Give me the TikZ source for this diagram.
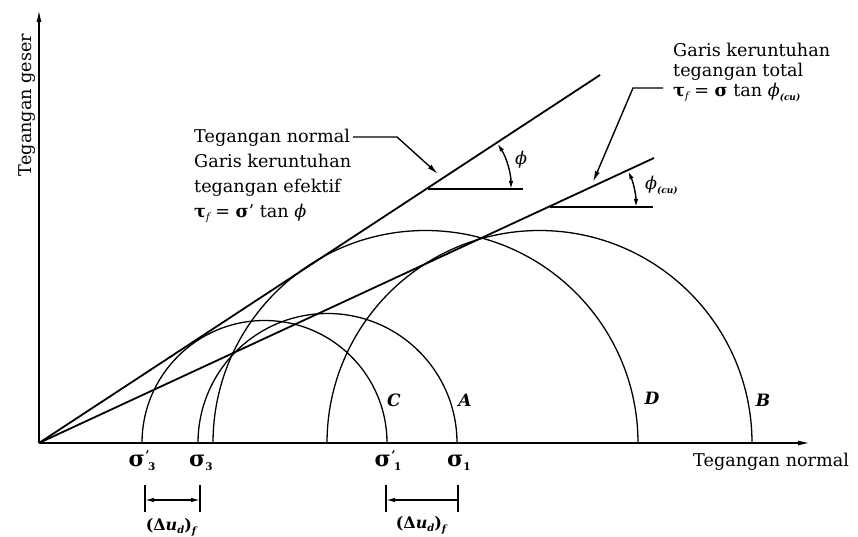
\documentclass[tikz,border=0pt]{standalone}
\usepackage{fontspec}
\setmainfont{DejaVu Serif}
\usetikzlibrary{arrows.meta}
\newcommand{\sgl}[1]{\textbf{σ}\kern0.5pt\raisebox{6.5pt}{\fontsize{12}{12}\selectfont\bfseries '}\kern-1.5pt\raisebox{-4pt}{\fontsize{10.5}{10.5}\selectfont\bfseries #1}}
\newcommand{\sgn}[1]{\textbf{σ}\raisebox{-4pt}{\fontsize{10.5}{10.5}\selectfont\bfseries #1}}
\newcommand{\dud}{\bfseries(Δ\textit{u}\raisebox{-3pt}{\fontsize{10}{10}\selectfont\itshape d})\raisebox{-4pt}{\fontsize{10}{10}\selectfont\itshape f}}
\begin{document}
\begin{tikzpicture}[x=1pt,y=-1pt,
  axis/.style={line width=1.4pt,-{Latex[length=12pt,width=5pt]}},
  fail/.style={line width=1.8pt},
  circ/.style={line width=1.3pt},
  thin line/.style={line width=1.3pt},
  lead/.style={line width=1.4pt,-{Latex[length=11pt,width=5pt]}},
  ang/.style={line width=1.4pt,{Latex[length=8pt,width=4.5pt]}-{Latex[length=8pt,width=4.5pt]}},
  txt/.style={font=\fontsize{17.6}{20}\selectfont, inner sep=0pt, anchor=base west},
  sig/.style={font=\fontsize{22}{24}\selectfont, inner sep=0pt, anchor=base},
  lab/.style={font=\fontsize{17}{20}\selectfont\bfseries\itshape, inner sep=0pt},
  du/.style={font=\fontsize{16}{18}\selectfont, inner sep=0pt}]
\useasboundingbox (0,0) rectangle (858,537);

% axes
\coordinate (O) at (39,443);
\coordinate (Ytip) at (39,10);
\coordinate (Xtip) at (810,443);
\draw[axis] (O) -- (Ytip);
\draw[axis] (O) -- (Xtip);

% failure envelopes
\coordinate (U) at (600,75);
\coordinate (L) at (654,158);
\draw[fail] (O) -- (U);
\draw[fail] (O) -- (L);

% Mohr circles
\begin{scope}
\clip (0,0) rectangle (858,443);
\draw[circ] (264.5,443) circle[radius=122.5pt];
\draw[circ] (327.5,443) circle[radius=129.5pt];
\draw[circ] (425.5,443) circle[radius=212.5pt];
\draw[circ] (539.5,443) circle[radius=212.5pt];
\end{scope}

% angle phi
\coordinate (P1) at (428,189);
\coordinate (P1e) at (523,189);
\draw[thin line] (P1) -- (P1e);
\draw[ang] (P1) ++(0:83pt) arc[start angle=0, end angle=33, radius=83pt];
\node[font=\fontsize{17.6}{20}\selectfont\itshape, inner sep=0pt] (phi) at (521,160) {ϕ};

% angle phi(cu)
\coordinate (P2) at (550,207);
\coordinate (P2e) at (653,207);
\draw[thin line] (P2) -- (P2e);
\draw[ang] (P2) ++(0:86pt) arc[start angle=0, end angle=24.5, radius=86pt];
\node[font=\fontsize{17.6}{20}\selectfont\itshape, inner sep=0pt, anchor=west] (phicu) at (645,186) {ϕ\raisebox{-4pt}{\fontsize{9}{9}\selectfont\bfseries\itshape (cu)}};

% left text block
\node[txt] (tn1) at (194,143) {Tegangan normal};
\node[txt] (tn2) at (194,168) {Garis keruntuhan};
\node[txt] (tn3) at (194,193) {tegangan efektif};
\node[txt] (tn4) at (194,218) {\textbf{τ}\raisebox{-3pt}{\fontsize{10}{10}\selectfont\itshape f} = \textbf{σ}' tan \textit{ϕ}};
\coordinate (k1) at (397,137);
\coordinate (tipU) at (438,174);
\draw[lead] (tn1.east |- k1) ++(3,0) -- (k1) -- (tipU);

% right text block
\node[txt] (tr1) at (673,57) {Garis keruntuhan};
\node[txt] (tr2) at (673,77) {tegangan total};
\node[txt] (tr3) at (673,97) {\textbf{τ}\raisebox{-3pt}{\fontsize{10}{10}\selectfont\itshape f} = \textbf{σ} tan \textit{ϕ}\raisebox{-4pt}{\fontsize{9}{9}\selectfont\bfseries\itshape (cu)}};
\coordinate (k2s) at (663,88);
\coordinate (k2) at (633,88);
\coordinate (tipL) at (593,182);
\draw[lead] (k2s) -- (k2) -- (tipL);

% circle labels
\node[lab] (C) at (394,400) {C};
\node[lab] (A) at (465,400) {A};
\node[lab] (D) at (652,398) {D};
\node[lab] (B) at (763,400) {B};

% axis labels
\node[sig] (s3p) at (142,466) {\sgl{3}};
\node[sig] (s3) at (201,466) {\sgn{3}};
\node[sig] (s1p) at (388,466) {\sgl{1}};
\node[sig] (s1) at (459,466) {\sgn{1}};
\node[txt] (xl) at (693,466) {Tegangan normal};
\node[font=\fontsize{17.6}{20}\selectfont, inner sep=0pt, anchor=base, rotate=90] (yl) at (31,105) {Tegangan geser};

% excess pore pressure dimension marks
\coordinate (a1t) at (145,485); \coordinate (a1b) at (145,512);
\coordinate (a2t) at (200,485); \coordinate (a2b) at (200,512);
\coordinate (a1m) at (145,500); \coordinate (a2m) at (200,500);
\draw[thin line] (a1t) -- (a1b);
\draw[thin line] (a2t) -- (a2b);
\draw[line width=1.3pt,{Latex[length=9pt,width=4.5pt]}-{Latex[length=9pt,width=4.5pt]}] (a1m) -- (a2m);
\coordinate (b1t) at (386,485); \coordinate (b1b) at (386,512);
\coordinate (b2t) at (458,485); \coordinate (b2b) at (458,512);
\coordinate (b1m) at (386,500); \coordinate (b2m) at (458,500);
\draw[thin line] (b1t) -- (b1b);
\draw[thin line] (b2t) -- (b2b);
\draw[line width=1.3pt,-{Latex[length=9pt,width=4.5pt]}] (b2m) -- (b1m);
\node[du] (du1) at (171,527) {\dud};
\node[du] (du2) at (421,525) {\dud};
\end{tikzpicture}
\end{document}
